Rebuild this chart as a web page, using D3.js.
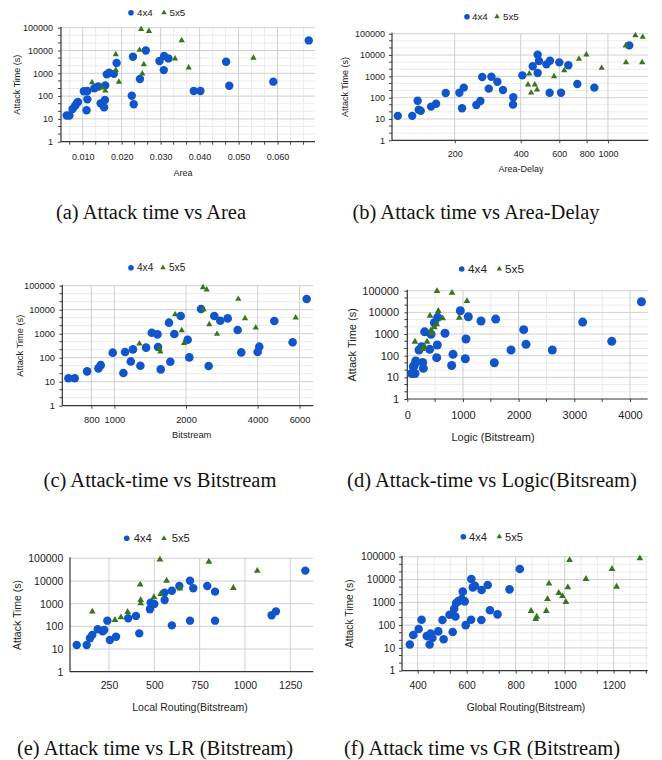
<!DOCTYPE html>
<html>
<head>
<meta charset="utf-8">
<script src="https://cdn.jsdelivr.net/npm/d3@7"></script>
<style>
body { margin: 0; background: #fff; }
svg { display: block; }
</style>
</head>
<body>
<div id="viz"></div>
<script>
// ---- data (x, attack time in s) ----
var areaBlueX = [0.0059,0.0066,0.0074,0.0081,0.0086,0.0088,0.0103,0.0112,0.0112,0.0110,0.0130,0.0140,0.0146,0.0157,0.0155,0.0158,0.0162,0.0168,0.0180,0.0187,0.0229,0.0226,0.0231,0.0247,0.0262,0.0297,0.0309,0.0320,0.0308,0.0385,0.0402,0.0468,0.0476,0.0589,0.0680];
var areaBlueY = [14,14,27,39,51,55,164,168,72,24,222,265,48,68,32,296,900,1065,945,2850,5350,104,44,560,10000,3450,5700,4500,1380,167,167,3200,285,430,27700];
var areaGreenX = [0.0124,0.0150,0.0158,0.0185,0.0185,0.0193,0.0250,0.0270,0.0246,0.0257,0.0253,0.0354,0.0337,0.0372,0.0538];
var areaGreenY = [400,234,172,6800,1380,416,85000,71000,10500,2450,960,27700,4370,1770,4700];

var adBlueX = [110,128,135.5,137,140,156,164.5,182,210,220,216,251,262,267,286,294,313,332,370,369,407,454,478,478,484.5,524,544,542,600,611,660,725,867,1251];
var adBlueY = [14,14,72,27,24,38,52,166,171,295,32,45,70,930,265,960,560,230,104,47,1110,2950,1440,10400,5230,3650,5400,170,4530,170,3300,437,295,28300];
var adGreenX = [438,432,446,464,475,568,632,738,797,936,1205,1209,1334,1441,1432];
var adGreenY = [1330,407,170,407,237,1000,1900,6500,10400,2450,27500,4530,83000,69700,4530];

var bsBlueX = [641,681,768,857,876,984,1091,1109,1172,1197,1286,1359,1436,1517,1525,1566,1696,1718,1786,1900,2032,2065,2313,2490,2630,2786,2993,3297,3414,4000,4065,4700,5613,6428];
var bsBlueY = [14,14,27,36,49,162,23,172,70,223,46,262,1100,935,278,32.5,2880,68,970,5450,560,103,10700,45,5450,3470,4350,1420,166,172,288,3380,437,27800];
var bsGreenX = [1274,1546,1561,1800,1918,1962,2357,2444,2371,2505,2699,3318,3541,3928,5780];
var bsGreenY = [383,237,178,6400,1380,407,85000,68000,10300,2450,970,27800,4360,1780,4650];

var logicBlueX = [79,138,108,126,151,276,288,210,258,312,402,426,486,546,528,539,677,797,821,952,1042,1054,1096,1324,1563,1588,1863,2091,2132,2605,3150,3672,4206];
var logicBlueY = [15,15,31,36,57,49,26,182,260,1260,196,970,3330,5900,81,310,1080,35,115,11800,72,590,6300,4000,47,4900,182,1590,333,182,3560,458,31000];
var logicGreenX = [138,269,305,354,408,426,438,486,528,533,557,636,803,934,1072];
var logicGreenY = [440,203,260,440,6950,1520,1070,2040,2800,96000,11500,5300,80000,5650,33000];

var lrBlueX = [72,127,145,158,188,215,224,241,255,289,356,399,417,476,480,500,557,557,597,597,638,697,715,697,792,835,835,1147,1171,1333];
var lrBlueY = [15,15,30,42,74,60,69,178,25,35,228,288,49,565,1100,970,1450,3070,3720,110,6000,10300,4780,178,6000,3390,178,310,458,28700];
var lrGreenX = [158,283,316,353,422,425,425,498,531,535,568,641,801,936,1068];
var lrGreenY = [445,190,250,430,6900,1450,1030,1910,88000,2680,10300,4600,71000,4900,27800];

var grBlueX = [368,382,404,416,437,453,449,460,484,501,506,530,543,549,554,557,566,580,584,592,596,618,619,625,634,660,661,686,695,726,775,817];
var grBlueY = [14,37,67,172,33,43,14,27,53,167,24,286,50,520,240,930,1130,1380,2930,1100,100,172,10500,4500,5350,167,3450,5700,445,296,3700,29000];
var grGreenX = [863,882,886,925,930,936,976,991,1005,1013,1020,1087,1193,1212,1307];
var grGreenY = [415,185,234,415,1380,6600,2560,1870,1030,4500,71000,10500,29000,4800,85000];

var yTicks = [1,10,100,1000,10000,100000];
var seriesNames = ["4x4","5x5"];

var BLUE = "#1155cc", GREEN = "#38761d";

var svg = d3.select("#viz").append("svg")
    .attr("width", 662).attr("height", 760);

function zip(xs, ys){ return xs.map(function(x, i){ return [x, ys[i]]; }); }

function minorTicks(major, n, log){
    var out = [];
    if (n === 0) return out;
    if (log){
        for (var k = 0; k < major.length - 1; k++){
            var a = Math.log10(major[k]), b = Math.log10(major[k+1]);
            for (var j = 1; j <= n; j++) out.push(Math.pow(10, a + (b - a) * j / (n + 1)));
        }
        return out;
    }
    var step = major[1] - major[0];
    var ext = [major[0] - step].concat(major, [major[major.length-1] + step]);
    for (var i = 0; i < ext.length - 1; i++){
        for (var m = 1; m <= n; m++) out.push(ext[i] + step * m / (n + 1));
    }
    return out;
}

function panel(p){
    var g = svg.append("g");
    var x = (p.xLog ? d3.scaleLog() : d3.scaleLinear()).domain(p.xDomain).range([p.left, p.right]);
    var y = d3.scaleLog().domain([1, 100000]).range([p.bottom, p.top]);
    var font = "Arial, 'Liberation Sans', sans-serif";

    var xMin = minorTicks(p.xTicks, p.xMinor, p.xLog).filter(function(v){ return x(v) > p.left + 0.5 && x(v) < p.right; });
    var yMin = minorTicks(yTicks, p.yMinor, true);

    // minor grid
    g.selectAll(".ym").data(yMin).enter().append("line")
        .attr("x1", p.left).attr("x2", p.right)
        .attr("y1", function(d){ return y(d); }).attr("y2", function(d){ return y(d); })
        .attr("stroke", "#ececec").attr("stroke-width", 1);
    g.selectAll(".xm").data(xMin).enter().append("line")
        .attr("y1", p.top).attr("y2", p.bottom)
        .attr("x1", function(d){ return x(d); }).attr("x2", function(d){ return x(d); })
        .attr("stroke", "#ececec").attr("stroke-width", 1);
    // major grid
    g.selectAll(".yg").data(yTicks.slice(1)).enter().append("line")
        .attr("x1", p.left).attr("x2", p.right)
        .attr("y1", function(d){ return y(d); }).attr("y2", function(d){ return y(d); })
        .attr("stroke", "#cfcfcf").attr("stroke-width", 1);
    g.selectAll(".xg").data(p.xTicks.filter(function(v){ return x(v) > p.left + 1; })).enter().append("line")
        .attr("y1", p.top).attr("y2", p.bottom)
        .attr("x1", function(d){ return x(d); }).attr("x2", function(d){ return x(d); })
        .attr("stroke", "#cfcfcf").attr("stroke-width", 1);

    // axes
    var ts = p.tick;
    var ya = d3.axisLeft(y).tickValues(yTicks).tickFormat(d3.format("d"))
        .tickSize(ts).tickPadding(p.left - p.yTickX - ts);
    var yg = g.append("g").attr("transform", "translate(" + p.left + ",0)").call(ya);
    var xa = d3.axisBottom(x).tickValues(p.xTicks).tickFormat(p.fmt)
        .tickSize(ts).tickPadding(p.xTickY - p.bottom - ts - 0.36 * p.fs);
    var xg = g.append("g").attr("transform", "translate(0," + p.bottom + ")").call(xa);
    [yg, xg].forEach(function(a){
        a.select(".domain").remove();
        a.selectAll("text").attr("font-family", font).attr("font-size", p.fs).attr("fill", "#222");
        a.selectAll("line").attr("stroke", "#444");
    });
    if (ts > 0){
        g.selectAll(".ymt").data(yMin).enter().append("line")
            .attr("x1", p.left - ts).attr("x2", p.left)
            .attr("y1", function(d){ return y(d); }).attr("y2", function(d){ return y(d); })
            .attr("stroke", "#444");
        g.selectAll(".xmt").data(xMin).enter().append("line")
            .attr("y1", p.bottom).attr("y2", p.bottom + ts)
            .attr("x1", function(d){ return x(d); }).attr("x2", function(d){ return x(d); })
            .attr("stroke", "#444");
    }
    g.append("line").attr("x1", p.left).attr("x2", p.left).attr("y1", p.top - 1).attr("y2", p.bottom)
        .attr("stroke", "#333").attr("stroke-width", 1.2);
    g.append("line").attr("x1", p.left).attr("x2", p.right).attr("y1", p.bottom).attr("y2", p.bottom)
        .attr("stroke", "#333").attr("stroke-width", 1.2);

    // points
    g.selectAll(".b").data(zip(p.bx, p.by)).enter().append("circle")
        .attr("cx", function(d){ return x(d[0]); }).attr("cy", function(d){ return y(d[1]); })
        .attr("r", p.r).attr("fill", BLUE);
    var tri = d3.symbol().type(d3.symbolTriangle).size(p.triSize);
    g.selectAll(".t").data(zip(p.gx, p.gy)).enter().append("path")
        .attr("d", tri)
        .attr("transform", function(d){ return "translate(" + x(d[0]) + "," + y(d[1]) + ")"; })
        .attr("fill", GREEN);

    // legend
    var L = p.legend;
    g.append("circle").attr("cx", L[0]).attr("cy", L[4]).attr("r", 2.8).attr("fill", BLUE);
    g.append("text").attr("x", L[1]).attr("y", L[4]).attr("dy", "0.35em").text(seriesNames[0])
        .attr("font-family", font).attr("font-size", p.fs + 0.8).attr("fill", "#222");
    g.append("path").attr("d", d3.symbol().type(d3.symbolTriangle).size(13)())
        .attr("transform", "translate(" + L[2] + "," + L[4] + ")").attr("fill", GREEN);
    g.append("text").attr("x", L[3]).attr("y", L[4]).attr("dy", "0.35em").text(seriesNames[1])
        .attr("font-family", font).attr("font-size", p.fs + 0.8).attr("fill", "#222");

    // titles
    g.append("text").attr("transform", "translate(" + p.yLabelX + "," + ((p.top + p.bottom) / 2) + ") rotate(-90)")
        .attr("text-anchor", "middle").attr("dy", "0.35em").text("Attack Time (s)")
        .attr("font-family", font).attr("font-size", p.fs).attr("fill", "#222");
    g.append("text").attr("x", p.xLabel[0]).attr("y", p.xLabel[1]).attr("dy", "0.35em")
        .attr("text-anchor", "middle").text(p.xTitle)
        .attr("font-family", font).attr("font-size", p.fs).attr("fill", "#222");
    g.append("text").attr("x", p.caption[0]).attr("y", p.caption[1]).attr("dy", "0.35em")
        .attr("text-anchor", "middle").text(p.captionText)
        .attr("font-family", "'Times New Roman', 'Liberation Serif', serif").attr("font-size", 20.5).attr("fill", "#111");
}

var fmtInt = d3.format("d");

panel({ left: 61, right: 315, top: 27.7, bottom: 141.7, xLog: false, xDomain: [0.00444, 0.0696],
    xTicks: [0.01,0.02,0.03,0.04,0.05,0.06], fmt: d3.format(".3f"), xMinor: 2, yMinor: 2, tick: 3,
    fs: 9, yTickX: 53, xTickY: 157, legend: [131, 137, 164, 169.5, 12.7], yLabelX: 17,
    xLabel: [183, 173], xTitle: "Area", r: 4.2, triSize: 17,
    bx: areaBlueX, by: areaBlueY, gx: areaGreenX, gy: areaGreenY,
    caption: [151, 212], captionText: "(a) Attack time vs Area" });

panel({ left: 392, right: 648.3, top: 33.7, bottom: 140.3, xLog: true, xDomain: [103.5, 1528],
    xTicks: [200,400,600,800,1000], fmt: fmtInt, xMinor: 0, yMinor: 2, tick: 3,
    fs: 9, yTickX: 385, xTickY: 154, legend: [467, 472, 497, 503, 16.7], yLabelX: 345,
    xLabel: [521, 169], xTitle: "Area-Delay", r: 4.2, triSize: 17,
    bx: adBlueX, by: adBlueY, gx: adGreenX, gy: adGreenY,
    caption: [476, 212], captionText: "(b) Attack time vs Area-Delay" });

panel({ left: 62.3, right: 313.3, top: 285.7, bottom: 405.7, xLog: true, xDomain: [604, 6855],
    xTicks: [800,1000,2000,4000,6000], fmt: fmtInt, xMinor: 0, yMinor: 2, tick: 3,
    fs: 9.3, yTickX: 55, xTickY: 419.3, legend: [131, 137, 163, 169, 267.7], yLabelX: 19.3,
    xLabel: [191.7, 435], xTitle: "Bitstream", r: 4.3, triSize: 17,
    bx: bsBlueX, by: bsBlueY, gx: bsGreenX, gy: bsGreenY,
    caption: [160, 480], captionText: "(c) Attack-time vs Bitstream" });

panel({ left: 407.3, right: 647.7, top: 290.7, bottom: 399, xLog: false, xDomain: [0, 4318],
    xTicks: [0,1000,2000,3000,4000], fmt: fmtInt, xMinor: 1, yMinor: 2, tick: 3,
    fs: 11, yTickX: 399, xTickY: 415, legend: [461.7, 468, 499.3, 505, 269], yLabelX: 351.7,
    xLabel: [493, 437], xTitle: "Logic (Bitstream)", r: 4.5, triSize: 20,
    bx: logicBlueX, by: logicBlueY, gx: logicGreenX, gy: logicGreenY,
    caption: [492, 480], captionText: "(d) Attack-time vs Logic(Bitsream)" });

panel({ left: 70, right: 313.3, top: 558.3, bottom: 671.7, xLog: false, xDomain: [35, 1377],
    xTicks: [250,500,750,1000,1250], fmt: fmtInt, xMinor: 0, yMinor: 0, tick: 0,
    fs: 10.5, yTickX: 63.3, xTickY: 685, legend: [126.7, 133.7, 164, 171.7, 538.3], yLabelX: 17.3,
    xLabel: [190, 707], xTitle: "Local Routing(Bitstream)", r: 4.2, triSize: 20,
    bx: lrBlueX, by: lrBlueY, gx: lrGreenX, gy: lrGreenY,
    caption: [155, 748], captionText: "(e) Attack time vs LR (Bitstream)" });

panel({ left: 402, right: 647.7, top: 556.7, bottom: 670.7, xLog: false, xDomain: [336, 1339],
    xTicks: [400,600,800,1000,1200], fmt: fmtInt, xMinor: 2, yMinor: 2, tick: 3,
    fs: 10.3, yTickX: 395.3, xTickY: 685, legend: [463.3, 469, 499.3, 505, 536.7], yLabelX: 349.3,
    xLabel: [526, 707], xTitle: "Global Routing(Bitstream)", r: 4.3, triSize: 20,
    bx: grBlueX, by: grBlueY, gx: grGreenX, gy: grGreenY,
    caption: [482, 748], captionText: "(f) Attack time vs GR (Bitstream)" });
</script>
</body>
</html>
